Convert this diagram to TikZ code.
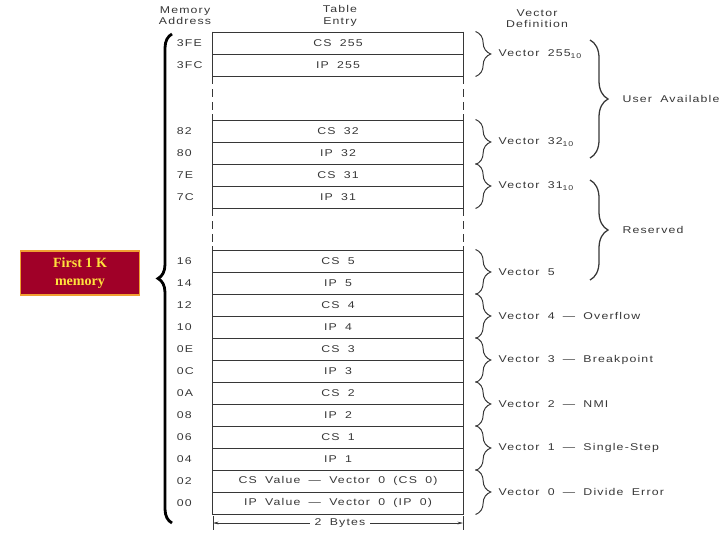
\documentclass[tikz,border=0pt]{standalone}
\usepackage{fontspec}
\usetikzlibrary{decorations.pathreplacing,arrows.meta}
\newfontfamily\scanfont[FakeStretch=1.25, LetterSpace=12, WordSpace=1.8]{Liberation Sans}
\newfontfamily\boxfont{Liberation Serif}
\definecolor{boxred}{RGB}{160,0,40}
\definecolor{boxedge}{RGB}{240,160,50}
\definecolor{boxtext}{RGB}{255,225,60}
\definecolor{scanink}{RGB}{55,55,55}

\begin{document}
\begin{tikzpicture}[x=0.025cm, y=-0.025cm,
        txt/.style={font=\scanfont\fontsize{7}{8}\selectfont, text=scanink},
        cell/.style={txt, draw=scanink, line width=0.7pt, minimum width=6.25cm, minimum height=0.55cm, inner sep=0pt},
        addr/.style={txt, anchor=west},
        gap/.style={draw=scanink, line width=1.3pt, dash pattern=on 5.5pt off 3.5pt},
        vbrace/.style={decorate, decoration={brace, amplitude=0.38cm}, draw=scanink, line width=0.7pt},
        bigbrace/.style={decorate, decoration={brace, amplitude=0.45cm}, draw=scanink, line width=0.9pt}]
        \useasboundingbox (0,0) rectangle (720,540);
        \clip (0,0) rectangle (720,540);

        % Column headings
        \node[txt, align=center] (hdaddr) at (185,16) {Memory\\Address};
        \node[txt, align=center] (hdentry) at (340,16) {Table\\Entry};
        \node[txt, align=center] (hdvec) at (537,19) {Vector\\Definition};

        % Table rows and addresses
        \foreach \name/\y/\lbl/\adr in {cs255/43/CS 255/3FE, ip255/65/IP 255/3FC,
                cs32/131/CS 32/82, ip32/153/IP 32/80, cs31/175/CS 31/7E, ip31/197/IP 31/7C,
                cs5/261/CS 5/16, ip5/283/IP 5/14, cs4/305/CS 4/12, ip4/327/IP 4/10,
                cs3/349/CS 3/0E, ip3/371/IP 3/0C, cs2/393/CS 2/0A, ip2/415/IP 2/08,
                cs1/437/CS 1/06, ip1/459/IP 1/04,
                cs0/481/CS Value — Vector 0 (CS 0)/02, ip0/503/IP Value — Vector 0 (IP 0)/00} {
            \node[cell] (\name) at (338,\y) {\lbl};
            \node[addr] (a\name) at (172,\y) {\adr};
        }

        % Heavier side edges of each block
        \foreach \hi/\lo in {cs255/ip255, cs32/ip31, cs5/ip0} {
            \draw[scanink, line width=1.3pt] (\hi.north west) -- (\lo.south west);
            \draw[scanink, line width=1.3pt] (\hi.north east) -- (\lo.south east);
        }

        % Dashed gaps
        \draw[gap] (ip255.south west) -- (cs32.north west);
        \draw[gap] (ip255.south east) -- (cs32.north east);
        \draw[gap] (ip31.south west) -- (cs5.north west);
        \draw[gap] (ip31.south east) -- (cs5.north east);

        % Vector braces
        \foreach \hi/\lo/\lbl in {cs255/ip255/Vector 255\textsubscript{10},
                cs32/ip32/Vector 32\textsubscript{10}, cs31/ip31/Vector 31\textsubscript{10},
                cs5/ip5/Vector 5, cs4/ip4/Vector 4 — Overflow, cs3/ip3/Vector 3 — Breakpoint,
                cs2/ip2/Vector 2 — NMI, cs1/ip1/Vector 1 — Single-Step,
                cs0/ip0/Vector 0 — Divide Error} {
            \draw[vbrace] ([xshift=0.3cm]\hi.north east) -- ([xshift=0.3cm]\lo.south east)
                node[txt, midway, right=0.45cm] {\lbl};
        }

        % User available / reserved
        \coordinate (uatop) at (590,40);
        \coordinate (uabot) at (590,158);
        \draw[bigbrace] (uatop) -- (uabot) node[txt, midway, right=0.68cm] (usr) {User Available};
        \coordinate (rstop) at (590,180);
        \coordinate (rsbot) at (590,280);
        \draw[bigbrace] (rstop) -- (rsbot) node[txt, midway, right=0.68cm] (rsv) {Reserved};

        % 2 Bytes
        \coordinate (bl) at (213,523);
        \coordinate (br) at (463,523);
        \node[txt] (bytes) at (340,523) {2 Bytes};
        \draw[scanink, -{Stealth[length=4pt, width=2pt]}] (bytes) -- (bl);
        \draw[scanink, -{Stealth[length=4pt, width=2pt]}] (bytes) -- (br);
        \draw[scanink] ([yshift=0.18cm]bl) -- ([yshift=-0.18cm]bl);
        \draw[scanink] ([yshift=0.18cm]br) -- ([yshift=-0.18cm]br);

        % First 1 K
        \coordinate (memtop) at (172,34);
        \coordinate (membot) at (172,523);
        \draw[decorate, decoration={brace, amplitude=0.35cm}, line width=2pt] (membot) -- (memtop);
        \node[draw=boxedge, fill=boxred, line width=1.2pt, minimum width=2.98cm, minimum height=1.1cm,
            text=boxtext, font=\boxfont\bfseries\fontsize{10}{13}\selectfont, align=center]
            (first) at (80,273) {First 1 K\\memory};
\end{tikzpicture}
\end{document}
